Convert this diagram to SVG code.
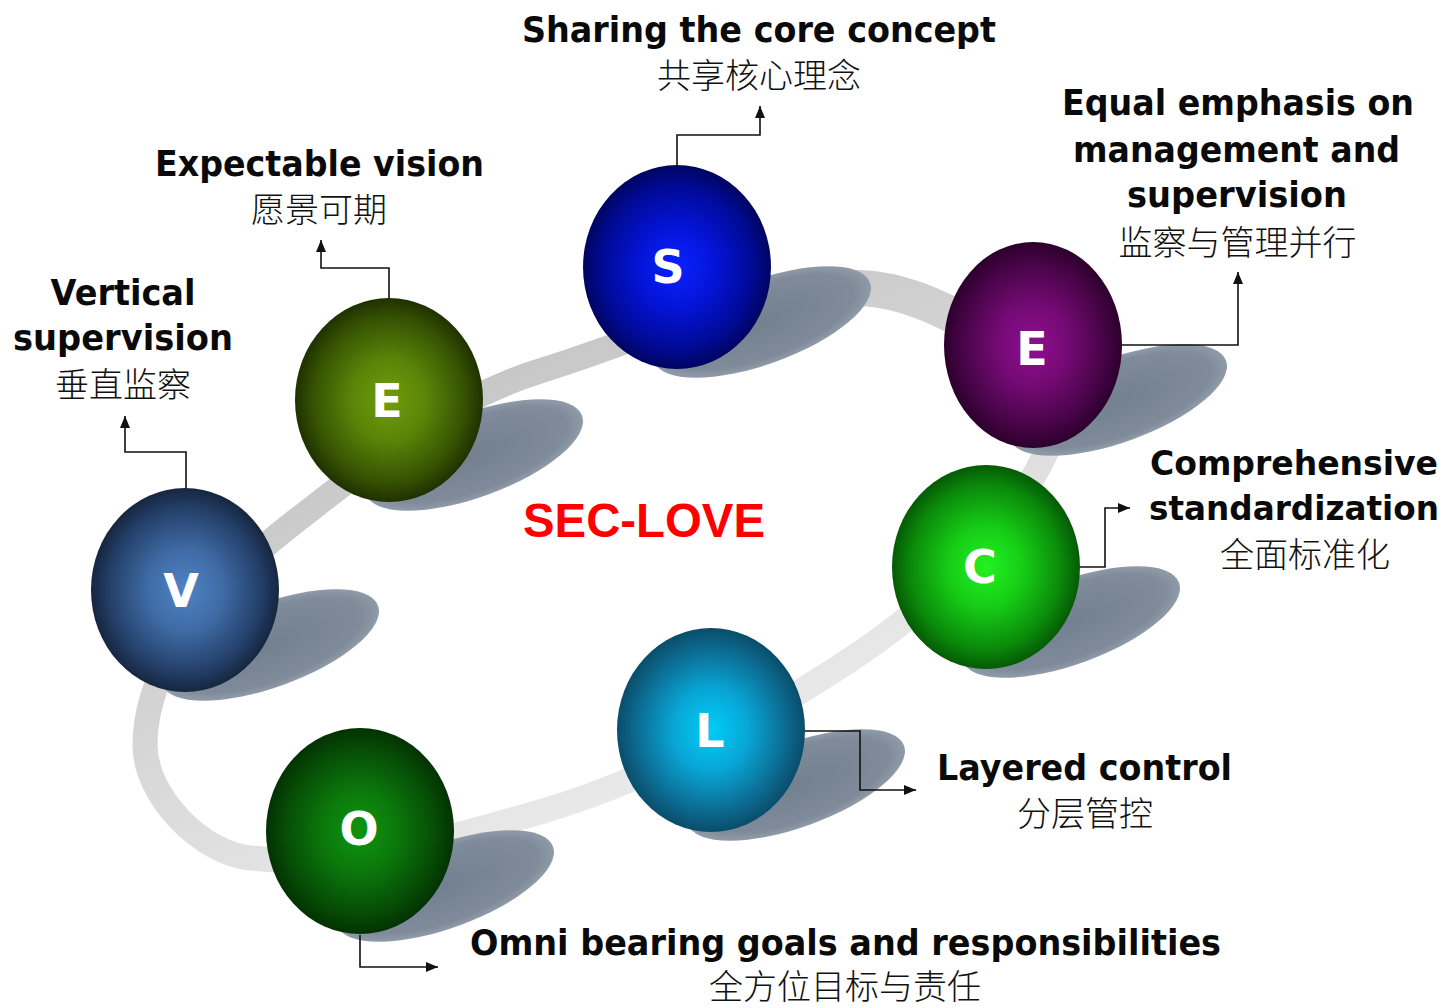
<svg xmlns="http://www.w3.org/2000/svg" width="1454" height="1008" viewBox="0 0 1454 1008">
<defs>
<style>
.lbl{font-family:"DejaVu Sans","Liberation Sans",sans-serif;font-weight:bold;font-size:36px;fill:#0a0a0a;text-anchor:middle}
.lbs{font-family:"DejaVu Sans","Liberation Sans",sans-serif;font-weight:bold;font-size:34px;fill:#0a0a0a;text-anchor:middle}
.cn{font-family:"Noto Sans CJK SC","Noto Sans",sans-serif;font-weight:300;font-size:34px;fill:#111;text-anchor:middle}
.let{font-family:"DejaVu Sans","Liberation Sans",sans-serif;font-weight:bold;font-size:46px;fill:#fff;text-anchor:middle}
.con{fill:none;stroke:#111;stroke-width:1.6;marker-end:url(#arr)}
.shd{fill:url(#gsh)}
</style>
<marker id="arr" markerUnits="userSpaceOnUse" markerWidth="12" markerHeight="12" viewBox="0 0 12 12" refX="12" refY="6" orient="auto">
<path d="M0,1 L12,6 L0,11 z" fill="#111"/>
</marker>
<linearGradient id="gring" gradientUnits="userSpaceOnUse" x1="560" y1="330" x2="760" y2="760">
<stop offset="0" stop-color="#c6c6c6"/>
<stop offset="1" stop-color="#ebebeb"/>
</linearGradient>
<radialGradient id="gsh" cx="50%" cy="50%" r="50%">
<stop offset="0" stop-color="#728090"/>
<stop offset="0.85" stop-color="#7f8b9a"/>
<stop offset="1" stop-color="#909ba8"/>
</radialGradient>
<radialGradient id="gV" cx="50%" cy="50%" r="50%">
<stop offset="0" stop-color="#4f84c6"/>
<stop offset="0.4" stop-color="#3f6ba5"/>
<stop offset="0.8" stop-color="#24406a"/>
<stop offset="1" stop-color="#16263f"/>
</radialGradient>
<radialGradient id="gE1" cx="50%" cy="50%" r="50%">
<stop offset="0" stop-color="#6f9e0b"/>
<stop offset="0.4" stop-color="#5a8408"/>
<stop offset="0.8" stop-color="#365303"/>
<stop offset="1" stop-color="#1f3100"/>
</radialGradient>
<radialGradient id="gS" cx="50%" cy="50%" r="50%">
<stop offset="0" stop-color="#0a22ff"/>
<stop offset="0.4" stop-color="#0414d8"/>
<stop offset="0.8" stop-color="#000a95"/>
<stop offset="1" stop-color="#000560"/>
</radialGradient>
<radialGradient id="gE2" cx="50%" cy="50%" r="50%">
<stop offset="0" stop-color="#900f90"/>
<stop offset="0.4" stop-color="#740a74"/>
<stop offset="0.8" stop-color="#470447"/>
<stop offset="1" stop-color="#2c002c"/>
</radialGradient>
<radialGradient id="gC" cx="50%" cy="50%" r="50%">
<stop offset="0" stop-color="#22f222"/>
<stop offset="0.4" stop-color="#16cc16"/>
<stop offset="0.8" stop-color="#0a8a0a"/>
<stop offset="1" stop-color="#055a05"/>
</radialGradient>
<radialGradient id="gL" cx="50%" cy="50%" r="50%">
<stop offset="0" stop-color="#00cdf8"/>
<stop offset="0.4" stop-color="#08a6d6"/>
<stop offset="0.8" stop-color="#0c6a90"/>
<stop offset="1" stop-color="#0a4d6a"/>
</radialGradient>
<radialGradient id="gO" cx="50%" cy="50%" r="50%">
<stop offset="0" stop-color="#109510"/>
<stop offset="0.4" stop-color="#0b780b"/>
<stop offset="0.8" stop-color="#064c06"/>
<stop offset="1" stop-color="#033203"/>
</radialGradient>
</defs>
<rect width="1454" height="1008" fill="#fff"/>

<g id="ring">
<path d="M145,745 C145,655 226,575 297,520 C372,462 449,399 540,371 C645,339 750,285 860,288 C943,290 1082,380 1045,455 C1003,540 928,608 850,660 C754,723 650,780 540,812 C446,839 345,868 250,858 C201,853 145,796 145,745 Z" fill="none" stroke="url(#gring)" stroke-width="25"/>
<path d="M698,316 C751,299 805,286.5 860,288 C901.5,289 957,312 997.5,344" fill="none" stroke="url(#gring)" stroke-width="36"/>
</g>

<g id="node-V">
<ellipse class="shd" cx="270" cy="645" rx="115" ry="42" transform="rotate(-20 270 645)"/>
<ellipse cx="185" cy="590" rx="94" ry="102" fill="url(#gV)"/>
<text class="let" x="181" y="607">V</text>
<text class="lbl" x="123" y="305" textLength="145" lengthAdjust="spacingAndGlyphs">Vertical</text>
<text class="lbl" x="123" y="350" textLength="220" lengthAdjust="spacingAndGlyphs">supervision</text>
<text class="cn" x="123" y="397">垂直监察</text>
</g>

<g id="node-E1">
<ellipse class="shd" cx="474" cy="455" rx="115" ry="42" transform="rotate(-20 474 455)"/>
<ellipse cx="389" cy="400" rx="94" ry="102" fill="url(#gE1)"/>
<text class="let" x="387" y="417">E</text>
<text class="lbl" x="319.5" y="176" textLength="329" lengthAdjust="spacingAndGlyphs">Expectable vision</text>
<text class="cn" x="319" y="222">愿景可期</text>
</g>

<g id="node-S">
<ellipse class="shd" cx="762" cy="322" rx="115" ry="42" transform="rotate(-20 762 322)"/>
<ellipse cx="677" cy="267" rx="94" ry="102" fill="url(#gS)"/>
<text class="let" x="668" y="283">S</text>
<text class="lbl" x="759" y="42" textLength="474" lengthAdjust="spacingAndGlyphs">Sharing the core concept</text>
<text class="cn" x="759" y="88">共享核心理念</text>
</g>

<g id="node-E2">
<ellipse class="shd" cx="1118" cy="400" rx="115" ry="42" transform="rotate(-20 1118 400)"/>
<ellipse cx="1033" cy="345" rx="89" ry="103" fill="url(#gE2)"/>
<text class="let" x="1032" y="365">E</text>
<text class="lbl" x="1238" y="115" textLength="352" lengthAdjust="spacingAndGlyphs">Equal emphasis on</text>
<text class="lbl" x="1236.5" y="162" textLength="327" lengthAdjust="spacingAndGlyphs">management and</text>
<text class="lbl" x="1237" y="207" textLength="220" lengthAdjust="spacingAndGlyphs">supervision</text>
<text class="cn" x="1237.5" y="255">监察与管理并行</text>
</g>

<g id="node-C">
<ellipse class="shd" cx="1071" cy="622" rx="115" ry="42" transform="rotate(-20 1071 622)"/>
<ellipse cx="986" cy="567" rx="94" ry="102" fill="url(#gC)"/>
<text class="let" x="980" y="583">C</text>
<text class="lbs" x="1294" y="475" textLength="288" lengthAdjust="spacingAndGlyphs">Comprehensive</text>
<text class="lbs" x="1294" y="520" textLength="290" lengthAdjust="spacingAndGlyphs">standardization</text>
<text class="cn" x="1305" y="567">全面标准化</text>
</g>

<g id="node-L">
<ellipse class="shd" cx="796" cy="785" rx="115" ry="42" transform="rotate(-20 796 785)"/>
<ellipse cx="711" cy="730" rx="94" ry="102" fill="url(#gL)"/>
<text class="let" x="710" y="747">L</text>
<text class="lbl" x="1084.5" y="780" textLength="295" lengthAdjust="spacingAndGlyphs">Layered control</text>
<text class="cn" x="1085" y="826">分层管控</text>
</g>

<g id="node-O">
<ellipse class="shd" cx="445" cy="886" rx="115" ry="42" transform="rotate(-20 445 886)"/>
<ellipse cx="360" cy="831" rx="94" ry="103" fill="url(#gO)"/>
<text class="let" x="359" y="845">O</text>
<text class="lbl" x="845.5" y="955" textLength="751" lengthAdjust="spacingAndGlyphs">Omni bearing goals and responsibilities</text>
<text class="cn" x="845" y="999">全方位目标与责任</text>
</g>

<g id="title">
<text x="644" y="537" textLength="242" lengthAdjust="spacingAndGlyphs" style="font-family:'Liberation Sans',Arial,sans-serif;font-weight:bold;font-size:48px;fill:#ff0000;text-anchor:middle">SEC-LOVE</text>
</g>

<g id="connectors">
<path class="con" d="M186,488 V452 H125 V416"/>
<path class="con" d="M389,298 V268 H321 V240"/>
<path class="con" d="M677,165 V135 H760 V106"/>
<path class="con" d="M1122,345 H1238 V272"/>
<path class="con" d="M1080,567 H1105 V508 H1130"/>
<path class="con" d="M805,731 H860 V790 H916"/>
<path class="con" d="M360,935 V967 H438"/>
</g>
</svg>
